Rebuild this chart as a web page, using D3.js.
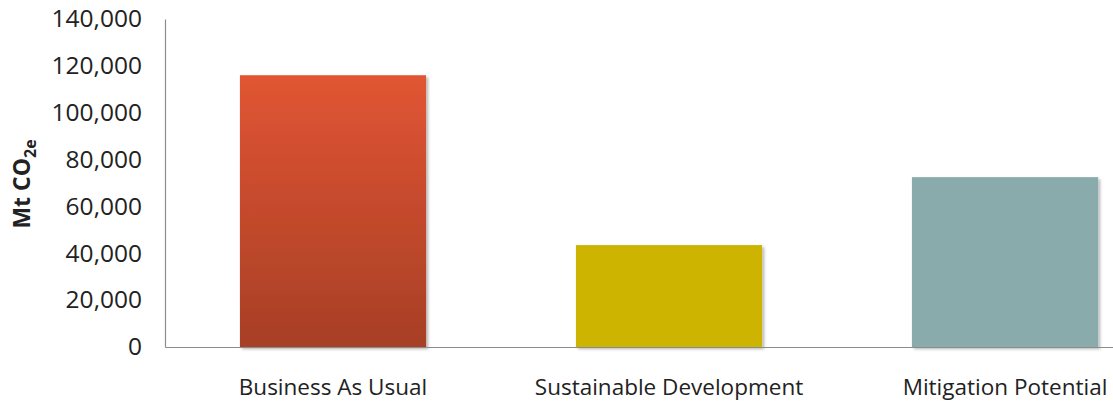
<!DOCTYPE html>
<html>
<head>
<meta charset="utf-8">
<script src="https://cdn.jsdelivr.net/npm/d3@7"></script>
<style>
  html, body { margin: 0; padding: 0; background: #fff; }
  svg { display: block; }
  text { font-family: "Open Sans", "Liberation Sans", sans-serif; fill: #222; }
</style>
</head>
<body>
<div id="chart"></div>
<script>
// Emissions by scenario (Mt CO2e)
const categories = ["Business As Usual", "Sustainable Development", "Mitigation Potential"];
const values = [116000, 43500, 72500];
const yTicks = [0, 20000, 40000, 60000, 80000, 100000, 120000, 140000];
const barColors = ["url(#bauGrad)", "#CCB400", "#8AABAB"];

const W = 1113, H = 402;
const svg = d3.select("#chart").append("svg")
  .attr("width", W).attr("height", H);

const defs = svg.append("defs");
const grad = defs.append("linearGradient")
  .attr("id", "bauGrad").attr("x1", 0).attr("y1", 0).attr("x2", 0).attr("y2", 1);
grad.append("stop").attr("offset", "0%").attr("stop-color", "#E15533");
grad.append("stop").attr("offset", "100%").attr("stop-color", "#A73F26");

const shadow = defs.append("filter").attr("id", "barShadow")
  .attr("x", "-10%").attr("y", "-10%").attr("width", "130%").attr("height", "130%");
shadow.append("feDropShadow")
  .attr("dx", 2).attr("dy", 2).attr("stdDeviation", 1.5)
  .attr("flood-color", "#000").attr("flood-opacity", 0.3);

const plotLeft = 165, plotRight = 1173, plotTop = 19, plotBottom = 347;

const y = d3.scaleLinear().domain([0, 140000]).range([plotBottom, plotTop]);
const x = d3.scaleBand().domain(categories)
  .range([plotLeft, plotRight])
  .paddingInner(0.446).paddingOuter(0.223);

// bars
svg.append("g").selectAll("rect")
  .data(categories)
  .join("rect")
  .attr("x", d => x(d))
  .attr("width", x.bandwidth())
  .attr("y", (d, i) => y(values[i]))
  .attr("height", (d, i) => y(0) - y(values[i]))
  .attr("fill", (d, i) => barColors[i])
  .attr("filter", "url(#barShadow)");

// y axis
const yAxis = d3.axisLeft(y)
  .tickValues(yTicks)
  .tickSize(0)
  .tickPadding(23)
  .tickFormat(d3.format(","));
const gy = svg.append("g").attr("transform", `translate(${plotLeft},0)`).call(yAxis);
gy.select(".domain").attr("stroke", "#8c8c8c").attr("stroke-width", 1.2);
gy.selectAll("text")
  .style("font-size", "24.5px")
  .attr("fill", "#222");

// x axis
const xAxis = d3.axisBottom(x).tickSize(0).tickPadding(32);
const gx = svg.append("g").attr("transform", `translate(0,${plotBottom})`).call(xAxis);
gx.select(".domain").attr("stroke", "#8c8c8c").attr("stroke-width", 1.2);
gx.selectAll("text")
  .style("font-size", "22.5px")
  .attr("fill", "#222");

// y axis title with subscript
const title = svg.append("text")
  .attr("transform", "translate(30,184) rotate(-90)")
  .attr("text-anchor", "middle")
  .style("font-size", "23px")
  .style("font-weight", "bold");
title.append("tspan").text("Mt CO");
title.append("tspan").attr("dy", 6).style("font-size", "16px").text("2e");
</script>
</body>
</html>
